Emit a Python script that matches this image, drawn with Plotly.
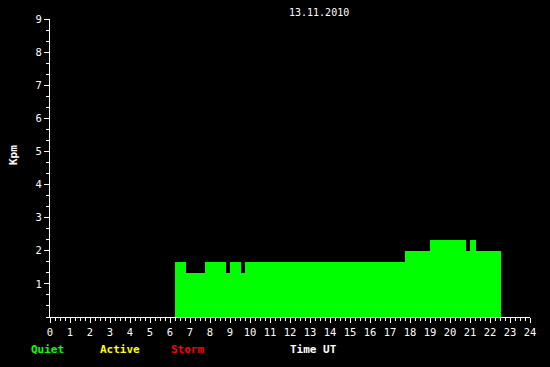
import plotly.graph_objects as go

# Interval boundaries (hours UT) and Kp values for each interval
start_hours = [6.25, 6.8, 7.75, 8.8, 9.0, 9.55, 9.75, 17.75, 19.0, 20.8, 21.0, 21.3]
end_hours = [6.8, 7.75, 8.8, 9.0, 9.55, 9.75, 17.75, 19.0, 20.8, 21.0, 21.3, 22.55]
kp_values = [1.67, 1.33, 1.67, 1.33, 1.67, 1.33, 1.67, 2.0, 2.33, 2.0, 2.33, 2.0]
x_ticks = list(range(0, 25))
y_ticks = list(range(1, 10))
title_text = "13.11.2010"

widths = [e - s for s, e in zip(start_hours, end_hours)]

MONO = "DejaVu Sans Mono"

fig = go.Figure()
fig.add_trace(go.Bar(
    x=start_hours, y=kp_values, width=widths, offset=0,
    marker=dict(color="#00ff00", line=dict(width=0)),
    hoverinfo="skip", showlegend=False,
))

fig.update_layout(
    width=550, height=367,
    margin=dict(l=50, r=20, t=19, b=50),
    paper_bgcolor="black", plot_bgcolor="black",
    font=dict(family=MONO, size=10, color="white"),
    bargap=0,
    xaxis=dict(
        range=[0, 24], tickvals=x_ticks, ticktext=[str(v) for v in x_ticks],
        showgrid=False, zeroline=False, showline=True, linecolor="white", linewidth=1,
        ticks="outside", ticklen=5, tickcolor="white", tickwidth=1,
        minor=dict(dtick=0.25, tick0=0, ticks="outside", ticklen=3, tickcolor="white", tickwidth=1, showgrid=False),
        tickfont=dict(family=MONO, size=10.5, color="white"),
        fixedrange=True,
    ),
    yaxis=dict(
        range=[0, 9], tickvals=y_ticks, ticktext=[str(v) for v in y_ticks],
        showgrid=False, zeroline=False, showline=True, linecolor="white", linewidth=1,
        ticks="outside", ticklen=5, tickcolor="white", tickwidth=1,
        minor=dict(dtick=1/3, tick0=0, ticks="outside", ticklen=3, tickcolor="white", tickwidth=1, showgrid=False),
        tickfont=dict(family=MONO, size=10.5, color="white"),
        fixedrange=True,
    ),
)

annotations = [
    dict(text=title_text, x=319, y=12, font=dict(size=10, color="white")),
    dict(text="<b>Kpm</b>", x=13, y=155, textangle=-90, font=dict(size=11, color="white")),
    dict(text="<b>Time UT</b>", x=313, y=349, font=dict(size=11, color="white")),
    dict(text="<b>Quiet</b>", x=47, y=349, font=dict(size=11, color="#00ff00")),
    dict(text="<b>Active</b>", x=120, y=349, font=dict(size=11, color="#ffff00")),
    dict(text="<b>Storm</b>", x=187, y=349, font=dict(size=11, color="#ff0000")),
]
# convert pixel positions into plot-area paper coordinates
for a in annotations:
    fig.add_annotation(
        text=a["text"],
        x=(a["x"] - 50) / (550 - 70), y=(367 - 50 - a["y"]) / (367 - 69),
        xref="paper", yref="paper", xanchor="center", yanchor="middle",
        showarrow=False, textangle=a.get("textangle", 0),
        font=dict(family=MONO, **a["font"]),
    )

fig.write_html("out.html")
